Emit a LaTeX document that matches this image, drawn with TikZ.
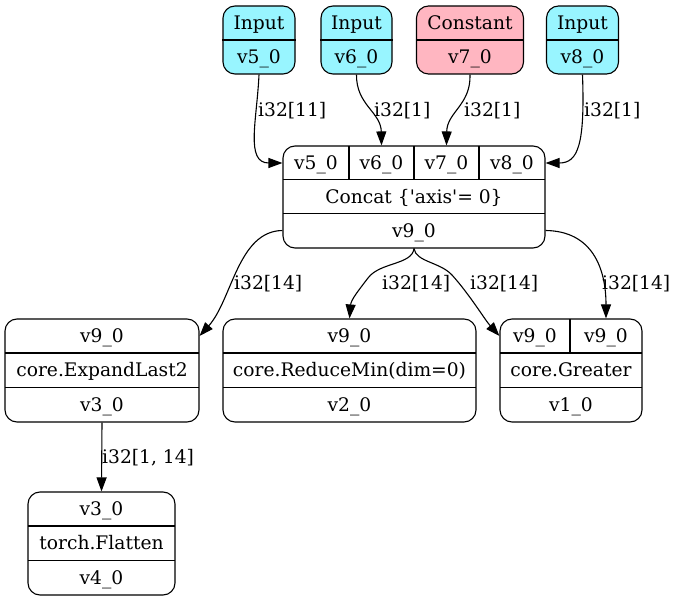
\documentclass[tikz,border=0pt]{standalone}
\usepackage{fontspec}
\setmainfont{DejaVu Serif}
\usetikzlibrary{arrows.meta}
\definecolor{inputc}{HTML}{98F5FF}
\definecolor{constc}{HTML}{FFB6C1}
\begin{document}
\begin{tikzpicture}[x=1pt,y=-1pt,
  box/.style={draw, line width=1.1pt, rounded corners=12pt, inner sep=0pt},
  txt/.style={font=\fontsize{18.67}{22}\selectfont, inner sep=0pt, text height=13.5pt, text depth=0pt},
  lab/.style={txt, anchor=west},
  edge/.style={line width=1.1pt, -{Triangle[length=14pt,width=10pt]}},
  sep/.style={line width=1.1pt}]
\useasboundingbox (0,0) rectangle (677,601);

% ---- inputs ----
\node[box, fill=inputc, minimum width=72pt, minimum height=68pt] (n5) at (259,40) {};
\node[box, fill=inputc, minimum width=71pt, minimum height=68pt] (n6) at (356.5,40) {};
\node[box, fill=constc, minimum width=107pt, minimum height=68pt] (n7) at (470,40) {};
\node[box, fill=inputc, minimum width=72pt, minimum height=68pt] (n8) at (582.5,40) {};
\foreach \n in {n5,n6,n7,n8} \draw[sep] (\n.west) -- (\n.east);
\node[txt] (n5a) at (259,23) {Input};
\node[txt] (n5b) at (259,57) {v5\_0};
\node[txt] (n6a) at (356.5,23) {Input};
\node[txt] (n6b) at (356.5,57) {v6\_0};
\node[txt] (n7a) at (470,23) {Constant};
\node[txt] (n7b) at (470,57) {v7\_0};
\node[txt] (n8a) at (582.5,23) {Input};
\node[txt] (n8b) at (582.5,57) {v8\_0};

% ---- concat ----
\node[box, minimum width=262pt, minimum height=102pt] (c) at (414,197) {};
\draw[sep] (283,179.5) -- (545,179.5);
\draw[sep] (283,213.5) -- (545,213.5);
\draw[sep] (349,146) -- (349,179.5);
\draw[sep] (414,146) -- (414,179.5);
\draw[sep] (479,146) -- (479,179.5);
\node[txt] (cp5) at (316,163) {v5\_0};
\node[txt] (cp6) at (381.5,163) {v6\_0};
\node[txt] (cp7) at (446.5,163) {v7\_0};
\node[txt] (cp8) at (512,163) {v8\_0};
\node[txt] (cop) at (414,196.5) {Concat \{\textquotesingle axis\textquotesingle= 0\}};
\node[txt] (cout) at (414,230.5) {v9\_0};

% ---- ExpandLast2 ----
\node[box, minimum width=194pt, minimum height=103pt] (e) at (102,370.5) {};
\draw[sep] (5,353) -- (199,353);
\draw[sep] (5,387.5) -- (199,387.5);
\node[txt] (ein) at (102,336) {v9\_0};
\node[txt] (eop) at (102,370) {core.ExpandLast2};
\node[txt] (eout) at (102,404.5) {v3\_0};

% ---- ReduceMin ----
\node[box, minimum width=253pt, minimum height=103pt] (r) at (349.5,370.5) {};
\draw[sep] (223,353) -- (476,353);
\draw[sep] (223,387.5) -- (476,387.5);
\node[txt] (rin) at (349.5,336) {v9\_0};
\node[txt] (rop) at (349.5,370) {core.ReduceMin(dim=0)};
\node[txt] (rout) at (349.5,404.5) {v2\_0};

% ---- Greater ----
\node[box, minimum width=142pt, minimum height=103pt] (g) at (571,370.5) {};
\draw[sep] (500,353) -- (642,353);
\draw[sep] (500,387.5) -- (642,387.5);
\draw[sep] (570,319) -- (570,353);
\node[txt] (gp1) at (535,336) {v9\_0};
\node[txt] (gp2) at (606,336) {v9\_0};
\node[txt] (gop) at (571,370) {core.Greater};
\node[txt] (gout) at (571,404.5) {v1\_0};

% ---- Flatten ----
\node[box, minimum width=147pt, minimum height=103pt] (f) at (101.5,543.5) {};
\draw[sep] (28,526) -- (175,526);
\draw[sep] (28,560.5) -- (175,560.5);
\node[txt] (fin) at (101.5,509) {v3\_0};
\node[txt] (fop) at (101.5,543) {torch.Flatten};
\node[txt] (fout) at (101.5,577.5) {v4\_0};

% ---- edges ----
\draw[edge] (n5.south) .. controls (257,120) and (245,163) .. (c.west |- cp5);
\draw[edge] (n6.south) .. controls (356,105) and (381,112) .. (cp6 |- c.north);
\draw[edge] (n7.south) .. controls (471,105) and (447,112) .. (cp7 |- c.north);
\draw[edge] (n8.south) .. controls (585,145) and (578,163) .. (c.east |- cp8);
\draw[edge] (c.west |- cout) .. controls (238,231) and (232,300) .. (e.east |- ein);
\draw[edge] (c.south) .. controls (412,265) and (380,262) .. (368,278) .. controls (358,291) and (351,300) .. (r.north);
\draw[edge] (c.south) .. controls (416,262) and (440,262) .. (452,275) .. controls (470,295) and (485,320) .. (g.west |- gp1);
\draw[edge] (c.east |- cout) .. controls (592,231) and (606,268) .. (gp2 |- g.north);
\draw[edge] (e.south) -- (f.north);

% ---- labels ----
\node[lab] (l1) at (258,110) {i32[11]};
\node[lab] (l2) at (374,110) {i32[1]};
\node[lab] (l3) at (464,110) {i32[1]};
\node[lab] (l4) at (584,110) {i32[1]};
\node[lab] (l5) at (234,283) {i32[14]};
\node[lab] (l6) at (382,283) {i32[14]};
\node[lab] (l7) at (470,283) {i32[14]};
\node[lab] (l8) at (602,283) {i32[14]};
\node[lab] (l9) at (102,457) {i32[1, 14]};
\end{tikzpicture}
\end{document}
